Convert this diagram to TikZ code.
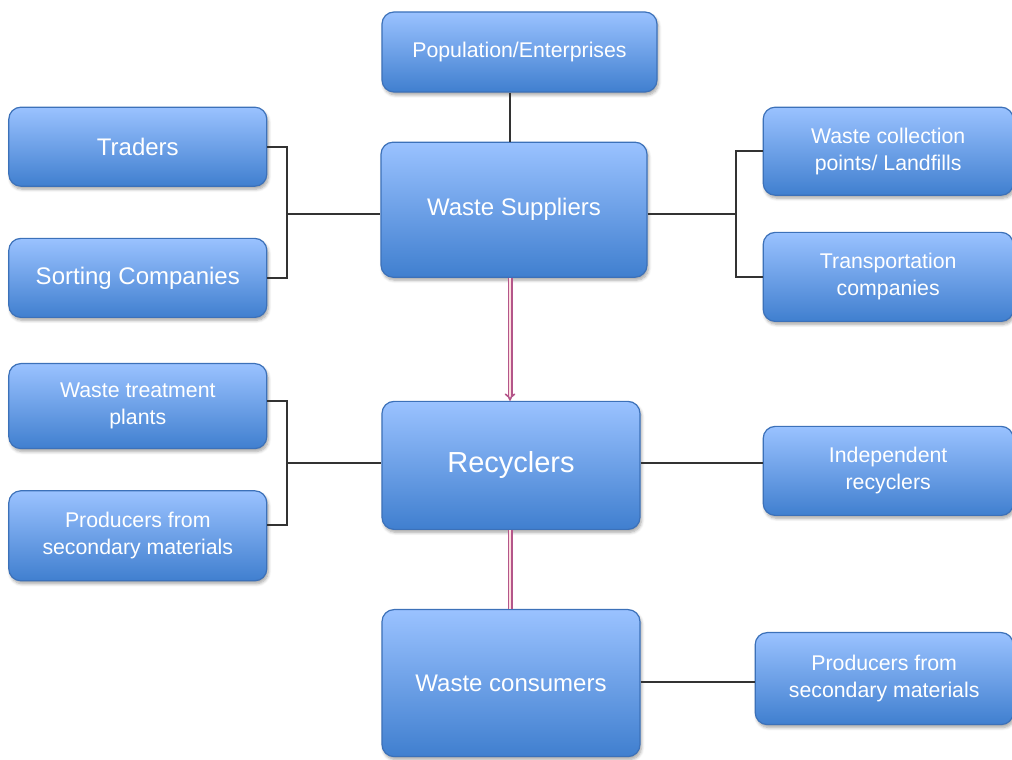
\documentclass[tikz,border=0pt]{standalone}
\usepackage{fontspec}
\setmainfont{Liberation Sans}
\usetikzlibrary{positioning, shadows.blur, arrows.meta}
\definecolor{boxtop}{RGB}{154,194,255}
\definecolor{boxbot}{RGB}{64,127,207}
\definecolor{boxline}{RGB}{60,113,185}
\definecolor{linkpink}{RGB}{180,86,138}
\tikzset{
  box/.style={draw=boxline, line width=1.2pt, rounded corners=12pt,
    top color=boxtop, bottom color=boxbot, text=white, align=center,
    minimum width=258pt, font=\fontsize{21.3}{27}\selectfont,
    blur shadow={shadow xshift=1.5pt, shadow yshift=-3pt,
      shadow blur radius=3pt, shadow blur steps=6, shadow opacity=35}},
  midtext/.style={font=\fontsize{24}{29}\selectfont},
  link/.style={draw=black!80, line width=2pt},
  flow/.style={draw=linkpink, line width=1.6pt, double=pink!50, double distance=1.8pt},
}

\begin{document}
\begin{tikzpicture}[x=1pt, y=1pt]
        \useasboundingbox (0,0) rectangle (1012,760);

        % main column
        \node[box, minimum width=275pt, minimum height=80pt] (pop) at (519.5,708) {Population/Enterprises};
        \node[box, midtext, minimum width=266pt, minimum height=135pt, below=49pt of pop, xshift=-5.5pt] (sup) {Waste Suppliers};
        \node[box, minimum height=128pt, below=123pt of sup, xshift=-3pt, font=\fontsize{29}{34}\selectfont] (rec) {Recyclers};
        \node[box, midtext, minimum height=147pt, below=79pt of rec] (con) {Waste consumers};

        % left side
        \node[box, midtext, minimum height=79pt, left=113pt of sup, yshift=63pt] (trad) {Traders};
        \node[box, midtext, minimum height=79pt, below=51pt of trad] (sort) {Sorting Companies};
        \node[box, minimum height=85pt, below=45pt of sort] (treat) {Waste treatment\\plants};
        \node[box, minimum height=90pt, below=41pt of treat] (prodl) {Producers from\\secondary materials};

        % right side
        \node[box, minimum width=250pt, minimum height=88pt, right=115pt of sup, yshift=58.5pt] (coll) {Waste collection\\points/ Landfills};
        \node[box, minimum width=250pt, minimum height=89pt, below=36pt of coll] (trans) {Transportation\\companies};
        \node[box, minimum width=250pt, minimum height=89pt, right=122pt of rec, yshift=-5.5pt] (indep) {Independent\\recyclers};
        \node[box, minimum height=92pt, right=114pt of con, yshift=4.5pt] (prodr) {Producers from\\secondary materials};

        % helper points
        \coordinate (spine) at (510,0);
        \coordinate (ltop) at (287,546);
        \coordinate (rtop) at (736,546);
        \coordinate (lbot) at (287,297);

        % links
        \draw[link] (pop.south -| spine) -- (sup.north -| spine);
        \draw[link] (trad.east) -| (ltop) |- (sort.east);
        \draw[link] (ltop) -- (sup.west |- ltop);
        \draw[link] (coll.west) -| (rtop) |- (trans.west);
        \draw[link] (sup.east |- rtop) -- (rtop);
        \draw[link] ([yshift=5pt]treat.east) -| (lbot) |- ([yshift=11pt]prodl.east);
        \draw[link] (lbot) -- (rec.west |- lbot);
        \draw[link] (rec.east |- lbot) -- (indep.west |- lbot);
        \draw[link] (con.east |- 0,78) -- (prodr.west |- 0,78);

        % flows
        \draw[flow, -{Implies}] (sup.south -| spine) -- (rec.north -| spine);
        \draw[flow] (rec.south -| spine) -- (con.north -| spine);

      \end{tikzpicture}
\end{document}
